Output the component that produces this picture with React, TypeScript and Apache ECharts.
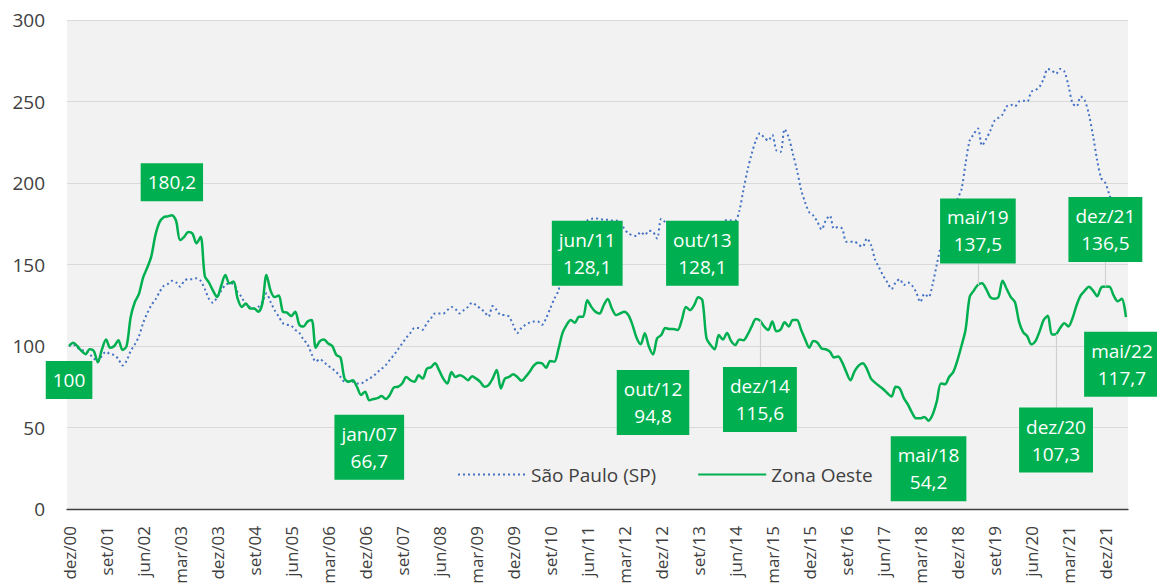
import React, { useEffect, useRef } from "react";
import * as echarts from "echarts";

const MONTHS = ["jan", "fev", "mar", "abr", "mai", "jun", "jul", "ago", "set", "out", "nov", "dez"];
const START_YEAR = 2000;
const START_MONTH = 11; // dez/00

// Zona Oeste (index, dez/00 = 100)
const zo2000 = [100];
const zo2001 = [102, 100, 97, 95, 98, 97, 90, 98, 104, 99, 100, 103.5];
const zo2002 = [97.5, 100, 118, 127, 132, 142, 148, 155, 168, 176, 179, 179.5];
const zo2003 = [180.2, 177, 165, 167, 170, 169, 163, 167, 143, 139, 134, 130];
const zo2004 = [137, 143.5, 138.5, 139.5, 129, 124, 126, 123, 123, 121, 126, 143.6];
const zo2005 = [134, 130, 131, 121, 120.5, 118.4, 121, 113, 112, 115, 116, 99];
const zo2006 = [103, 104, 101.5, 100, 94.5, 93, 80, 78, 79, 75, 70, 72];
const zo2007 = [66.7, 67.5, 68, 69.3, 67.5, 70, 74.6, 75, 77, 81, 79, 78];
const zo2008 = [82, 80, 86, 87, 89.4, 85, 80, 77, 84, 81, 82, 81];
const zo2009 = [79, 81.5, 80, 78, 75, 76, 80, 85.3, 74, 80, 81, 82.6];
const zo2010 = [81, 78.7, 81, 84.2, 88, 89.8, 89.4, 86.7, 90.8, 90.4, 98, 108];
const zo2011 = [113, 116, 114.3, 118, 118, 128.1, 124, 121, 120, 125, 128.8, 123];
const zo2012 = [119, 120, 121, 119, 113, 105, 101, 107.8, 99.6, 94.8, 104.7, 106.7];
const zo2013 = [111, 110.5, 110.5, 109.8, 116, 124, 122, 125, 129.9, 128.1, 104.7, 100.6];
const zo2014 = [98, 106.7, 104, 108, 103, 100.6, 104, 103.5, 107, 112, 116.5, 115.6];
const zo2015 = [112, 109.8, 115, 109, 110, 114.5, 112, 116, 116, 110, 104, 99];
const zo2016 = [103, 102, 98.5, 98, 96.5, 93, 93.5, 90, 84, 79, 84.5, 88];
const zo2017 = [89.4, 86, 80, 77.5, 75.5, 73.5, 71, 69, 75, 74, 68, 64];
const zo2018 = [59, 55.6, 55.6, 56.5, 54.2, 58, 66, 77, 76.5, 81, 84, 91];
const zo2019 = [100, 110, 130, 134, 137.5, 138.5, 135, 130, 129, 130, 140, 135];
const zo2020 = [130, 127, 115, 108.5, 106, 101, 103, 109, 116, 118.5, 107, 107.3];
const zo2021 = [111, 114, 112, 117, 125, 131, 134, 136.4, 134, 130.5, 136, 136.5];
const zo2022 = [136.4, 131, 127.5, 129, 117.7];

// São Paulo (SP)
const sp2000 = [100];
const sp2001 = [101, 99, 97.5, 97, 95, 92.4, 90.4, 94, 96.5, 95, 94.5, 92];
const sp2002 = [88, 91, 97, 101, 106, 114, 120, 125, 128.5, 133, 136.8, 138];
const sp2003 = [140, 139, 136.4, 140, 141, 141, 141.5, 140, 135, 129, 126.5, 130];
const sp2004 = [134, 137.4, 138.5, 138, 133, 130, 125, 124, 123, 124, 127, 132.3];
const sp2005 = [127, 122, 118, 114, 113, 112.5, 110, 108, 104, 101, 95, 90.4];
const sp2006 = [92, 90, 88, 86, 84, 81, 78, 78, 78, 77, 77, 78.5];
const sp2007 = [80, 81.5, 84, 86, 88.3, 91.5, 94.5, 98, 101.6, 105, 108, 111];
const sp2008 = [111, 110, 114, 117, 120, 120, 120, 122, 124, 122.5, 120, 122];
const sp2009 = [124, 126.6, 125, 123, 121, 118, 124.5, 122, 119, 119, 118, 113];
const sp2010 = [108, 111, 113, 114.3, 115, 115, 113, 117, 123, 129, 134, 145];
const sp2011 = [153, 161, 167, 172, 175, 177, 178, 178.3, 178, 177.5, 177.5, 177];
const sp2012 = [177, 176, 172, 169, 168, 167.5, 170, 168, 170.7, 170, 166, 178];
const sp2013 = [176, 174, 172, 173, 171, 170, 172, 170, 168, 170, 172, 174];
const sp2014 = [173, 175, 176, 177.3, 177, 177, 183, 196, 208, 218, 226, 230.5];
const sp2015 = [228, 226, 229.4, 220, 219, 233, 228, 218, 208, 196, 188, 182];
const sp2016 = [180, 176, 171.5, 177, 180, 172, 173, 172, 164, 164, 164, 162];
const sp2017 = [161, 166, 162, 153, 148, 143, 139, 135, 139, 141, 137.4, 139];
const sp2018 = [137, 133, 127, 132, 130, 138, 150, 161, 168, 176, 183, 190];
const sp2019 = [196, 212, 226, 230, 233.5, 223, 227, 232, 238, 240, 242, 247];
const sp2020 = [248, 247, 250, 250.5, 250, 256, 257, 259, 264, 270, 269, 267];
const sp2021 = [270, 268.5, 260, 249, 247, 253, 250.5, 242, 229, 214, 203, 200];
const sp2022 = [192.6, 185, 178, 170, 162];

const zonaOeste = [
  ...zo2000, ...zo2001, ...zo2002, ...zo2003, ...zo2004, ...zo2005, ...zo2006, ...zo2007,
  ...zo2008, ...zo2009, ...zo2010, ...zo2011, ...zo2012, ...zo2013, ...zo2014, ...zo2015,
  ...zo2016, ...zo2017, ...zo2018, ...zo2019, ...zo2020, ...zo2021, ...zo2022,
];
const saoPaulo = [
  ...sp2000, ...sp2001, ...sp2002, ...sp2003, ...sp2004, ...sp2005, ...sp2006, ...sp2007,
  ...sp2008, ...sp2009, ...sp2010, ...sp2011, ...sp2012, ...sp2013, ...sp2014, ...sp2015,
  ...sp2016, ...sp2017, ...sp2018, ...sp2019, ...sp2020, ...sp2021, ...sp2022,
];

const categories: string[] = zonaOeste.map((_, i) => {
  const m = (START_MONTH + i) % 12;
  const y = START_YEAR + Math.floor((START_MONTH + i) / 12);
  return `${MONTHS[m]}/${String(y % 100).padStart(2, "0")}`;
});

const yTicks = [0, 50, 100, 150, 200, 250, 300];

// Highlighted points of Zona Oeste
const annotations = [
  { cat: "dez/00", twoLine: false, dx: 0, dy: 34, leaderTo: null as number | null },
  { cat: "jan/03", twoLine: false, dx: 0, dy: -33, leaderTo: null },
  { cat: "jan/07", twoLine: true, dx: 0, dy: 47, leaderTo: null },
  { cat: "jun/11", twoLine: true, dx: 0, dy: -47, leaderTo: null },
  { cat: "out/12", twoLine: true, dx: 0, dy: 48, leaderTo: null },
  { cat: "out/13", twoLine: true, dx: 0, dy: -47, leaderTo: null },
  { cat: "dez/14", twoLine: true, dx: 0, dy: 79, leaderTo: 87 },
  { cat: "mai/18", twoLine: true, dx: 0, dy: 48, leaderTo: null },
  { cat: "mai/19", twoLine: true, dx: 0, dy: -54, leaderTo: 151 },
  { cat: "dez/20", twoLine: true, dx: 0, dy: 106, leaderTo: 62 },
  { cat: "dez/21", twoLine: true, dx: 0, dy: -57, leaderTo: 151.5 },
  { cat: "mai/22", twoLine: true, dx: -4, dy: 47, leaderTo: null },
];

const FONT = "'Open Sans', 'Noto Sans', sans-serif";
const fmt = (v: number) => (Number.isInteger(v) ? String(v) : v.toFixed(1).replace(".", ","));

export default function App() {
  const ref = useRef<HTMLDivElement>(null);
  useEffect(() => {
    if (!ref.current) return;
    const chart = echarts.init(ref.current, null, { renderer: "svg" });
    const markPointData = annotations.map((a) => {
      const idx = categories.indexOf(a.cat);
      const v = zonaOeste[idx];
      return {
        coord: [idx, v],
        value: v,
        label: {
          formatter: a.twoLine ? `${a.cat}\n${fmt(v)}` : fmt(v),
          offset: [a.dx, a.dy],
        },
      };
    });
    const leaderData = annotations
      .filter((a) => a.leaderTo !== null)
      .map((a) => {
        const idx = categories.indexOf(a.cat);
        return [{ coord: [idx, zonaOeste[idx]] }, { coord: [idx, a.leaderTo as number] }];
      });
    chart.setOption({
      animation: false,
      textStyle: { fontFamily: FONT },
      grid: {
        left: 67,
        right: 29,
        top: 20,
        bottom: 78,
        show: true,
        backgroundColor: "#f2f2f2",
        borderWidth: 0,
      },
      legend: {
        left: 452,
        top: 460,
        itemWidth: 68,
        itemHeight: 14,
        itemGap: 41,
        itemStyle: { opacity: 0 },
        textStyle: { fontSize: 19, color: "#404040", fontFamily: FONT },
        data: ["São Paulo (SP)", "Zona Oeste"],
      },
      xAxis: [
        {
          type: "category",
          data: categories,
          boundaryGap: true,
          axisLine: { lineStyle: { color: "#404040", width: 1.3 } },
          axisTick: { interval: 8, length: 7, lineStyle: { color: "#404040", width: 1.3 } },
          axisLabel: {
            interval: 8,
            rotate: 90,
            fontSize: 17,
            color: "#404040",
            margin: 17,
            fontFamily: FONT,
          },
          splitLine: { show: false },
        },
        {
          type: "category",
          data: categories,
          position: "bottom",
          boundaryGap: true,
          axisLine: { show: false },
          axisTick: { inside: true, interval: 8, length: 7, lineStyle: { color: "#404040", width: 1.3 } },
          axisLabel: { show: false },
          splitLine: { show: false },
        },
      ],
      yAxis: {
        type: "value",
        min: yTicks[0],
        max: yTicks[yTicks.length - 1],
        interval: 50,
        axisLine: { show: false },
        axisTick: { show: false },
        axisLabel: { fontSize: 19, color: "#404040", margin: 22, fontFamily: FONT },
        splitLine: { lineStyle: { color: "#d9d9d9", width: 1.2 } },
      },
      series: [
        {
          name: "São Paulo (SP)",
          type: "line",
          data: saoPaulo,
          symbol: "none",
          smooth: 0.3,
          z: 2,
          color: "#4472C4",
          lineStyle: { color: "#4472C4", width: 2, type: [2, 3] },
          markLine: {
            silent: true,
            symbol: ["none", "none"],
            label: { show: false },
            lineStyle: { color: "#d0d0d0", width: 1.2, type: "solid" },
            emphasis: { disabled: true },
            data: leaderData,
          },
        },
        {
          name: "Zona Oeste",
          type: "line",
          data: zonaOeste,
          symbol: "none",
          smooth: 0.3,
          z: 3,
          color: "#00B050",
          lineStyle: { color: "#00B050", width: 2.5 },
          markPoint: {
            silent: true,
            symbol: "circle",
            symbolSize: 0,
            label: {
              show: true,
              position: "inside",
              backgroundColor: "#00B050",
              color: "#ffffff",
              fontSize: 19,
              lineHeight: 27,
              padding: [6, 7, 5, 7],
              fontFamily: FONT,
            },
            data: markPointData,
          },
        },
      ],
    });
    return () => chart.dispose();
  }, []);
  return (
    <div
      ref={ref}
      style={{ position: "fixed", left: 0, top: 0, width: 1157, height: 587, background: "#ffffff" }}
    />
  );
}
